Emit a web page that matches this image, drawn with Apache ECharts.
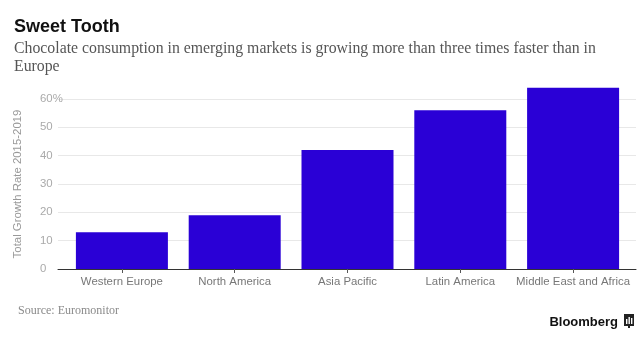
<!DOCTYPE html>
<html>
<head>
<meta charset="utf-8">
<script src="https://cdn.jsdelivr.net/npm/echarts@6/dist/echarts.min.js"></script>
<style>
  html, body { margin: 0; padding: 0; background: #fff; }
  #chart { width: 640px; height: 339px; }
</style>
</head>
<body>
<div id="chart"></div>
<script>
// Chocolate consumption growth by region, 2015-2019
const regions = ['Western Europe', 'North America', 'Asia Pacific', 'Latin America', 'Middle East and Africa'];
const growth = [13, 19, 42, 56, 64];
const yTicks = [0, 10, 20, 30, 40, 50, 60];

const titleText = 'Sweet Tooth';
const subtitleText = 'Chocolate consumption in emerging markets is growing more than three times faster than in\nEurope';
const sourceText = 'Source: Euromonitor';
const yName = 'Total Growth Rate 2015-2019';

const chart = echarts.init(document.getElementById('chart'), null, { renderer: 'canvas' });

const sans = 'Liberation Sans, Arial, sans-serif';
const serif = 'Liberation Serif, DejaVu Serif, serif';
const yMin = yTicks[0], yMax = yTicks[yTicks.length - 1];
const yStep = yTicks[1] - yTicks[0];

// plot area geometry shared by both grids
const plotBottom = 70, plotTop = 99;
const plotH = 339 - plotBottom - plotTop;
const pxPerUnit = plotH / (yMax - yMin);
// the bar grid reaches one step higher so the tallest bar is not cut at the top tick
const barMax = yMax + yStep;
const barTop = plotTop - yStep * pxPerUnit;

chart.setOption({
  backgroundColor: '#ffffff',
  animation: false,
  title: [
    { text: titleText, left: 9, top: 13,
      textStyle: { fontFamily: sans, fontWeight: 'bold', fontSize: 18, color: '#111' } },
    { text: subtitleText, left: 9, top: 35,
      textStyle: { fontFamily: serif, fontWeight: 'normal', fontSize: 15.8, lineHeight: 18, color: '#555' } },
    { text: sourceText, left: 13, top: 300,
      textStyle: { fontFamily: serif, fontWeight: 'normal', fontSize: 12, color: '#8a8a8a' } },
    { text: 'Bloomberg', right: 17, top: 311,
      textStyle: { fontFamily: sans, fontWeight: 'bold', fontSize: 13, color: '#111' } }
  ],
  graphic: [
    { type: 'group', right: 6, top: 314, children: [
      { type: 'rect', shape: { x: 0, y: 0, width: 10, height: 12 }, style: { fill: '#222' } },
      { type: 'rect', shape: { x: 2, y: 5, width: 1.4, height: 5 }, style: { fill: '#fff' } },
      { type: 'rect', shape: { x: 4.5, y: 3, width: 1.4, height: 7 }, style: { fill: '#fff' } },
      { type: 'rect', shape: { x: 7, y: 4, width: 1.4, height: 6 }, style: { fill: '#fff' } },
      { type: 'rect', shape: { x: 4, y: 12, width: 2, height: 2 }, style: { fill: '#222' } }
    ]}
  ],
  grid: [
    // frame: gridlines, y labels and baseline
    { left: 58, right: 4, top: plotTop, bottom: plotBottom },
    // bars
    { left: 65.5, right: 10.5, top: barTop, bottom: plotBottom }
  ],
  xAxis: [
    { gridIndex: 0, type: 'value', min: 0, max: 1,
      axisLine: { show: true, onZero: false, lineStyle: { color: '#333', width: 1 } },
      axisTick: { show: false }, axisLabel: { show: false }, splitLine: { show: false } },
    { gridIndex: 1, type: 'category', data: regions,
      axisLine: { show: false },
      axisTick: { show: true, alignWithLabel: true, length: 4, lineStyle: { color: '#555' } },
      axisLabel: { color: '#777', fontFamily: sans, fontSize: 11.4, margin: 7, interval: 0 } }
  ],
  yAxis: [
    { gridIndex: 0, type: 'value', min: yMin, max: yMax, interval: yStep,
      name: yName, nameLocation: 'middle', nameGap: 35,
      nameTextStyle: { color: '#999', fontFamily: sans, fontSize: 11.4 },
      axisLine: { show: false }, axisTick: { show: false },
      axisLabel: { color: '#aaa', fontFamily: sans, fontSize: 11.4, align: 'left', margin: 18,
        formatter: v => (v === yMax ? v + '%' : String(v)) },
      splitLine: { show: true, lineStyle: { color: '#e8e8e8', width: 1 } } },
    { gridIndex: 1, type: 'value', min: yMin, max: barMax, interval: yStep, show: false,
      splitLine: { show: false } }
  ],
  series: [
    { type: 'bar', xAxisIndex: 1, yAxisIndex: 1, data: growth, barWidth: 92,
      itemStyle: { color: '#2a00d6' } }
  ]
});
</script>
</body>
</html>
